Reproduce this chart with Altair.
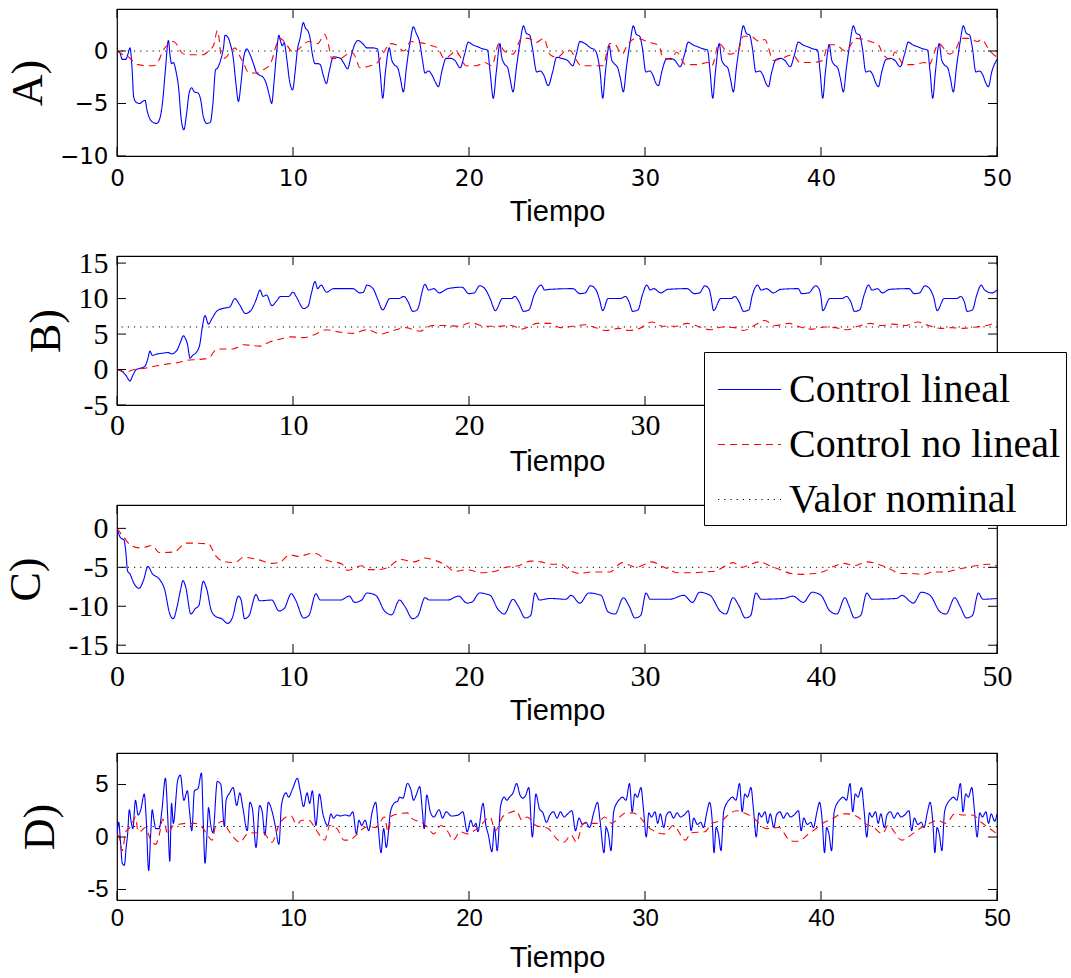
import altair as alt
import pandas as pd

X_TICKS = [0, 10, 20, 30, 40, 50]
SERIES = ["Control lineal", "Control no lineal", "Valor nominal"]
COLORS = ["#0000ff", "#ff0000", "#000000"]
DASHES = [[1, 0], [7, 5], [1.2, 5]]

# ---------------- Panel A ----------------
A_LINEAL = [(0,0),(0.15,-0.1),(0.3,-0.8),(0.5,-0.8),(0.62,-0.3),(0.74,0.3),(0.85,-1.5),(0.95,-4.4),(1.1,-4.9),(1.3,-5.0),(1.45,-4.8),(1.6,-4.7),(1.7,-5.6),(1.85,-6.4),(2.05,-6.8),(2.25,-6.9),(2.4,-6.6),(2.6,-4.7),(2.75,-1.8),(2.92,1.0),(3.02,-0.5),(3.1,-1.2),(3.2,-1.1),(3.36,-2.0),(3.5,-3.5),(3.65,-6.5),(3.8,-7.5),(3.95,-6.0),(4.1,-4.0),(4.24,-3.5),(4.4,-3.9),(4.6,-4.0),(4.75,-4.6),(4.9,-6.2),(5.1,-6.9),(5.3,-6.8),(5.45,-5.0),(5.6,-1.8),(5.72,-1.6),(5.9,-0.8),(6.05,0.3),(6.14,1.5),(6.3,1.3),(6.45,0.6),(6.6,-0.6),(6.75,-3.0),(6.9,-4.8),(7.05,-3.0),(7.2,-0.6),(7.37,0.2),(7.55,-0.3),(7.75,-1.2),(7.94,-2.1),(8.1,-2.3),(8.3,-2.5),(8.5,-3.2),(8.65,-4.2),(8.79,-5.0),(8.92,-3.0),(9.05,-0.5),(9.2,1.5),(9.3,0.9),(9.4,0.5),(9.5,0.8),(9.65,-0.8),(9.8,-2.8),(9.98,-3.7),(10.12,-2.0),(10.25,0.1),(10.4,1.2),(10.59,2.7),(10.7,2.2),(10.85,1.9),(10.95,1.4),(11.1,-0.3),(11.25,-1.2),(11.4,-1.2),(11.55,-1.3),(11.7,-2.2),(11.9,-3.1),(12.05,-2.0),(12.3,-0.55),(12.5,-0.6),(12.7,-0.7),(12.9,-1.2),(13.1,-1.7),(13.3,-0.5),(13.5,0.6),(13.7,1.0),(13.96,0.7),(14.2,0.3),(14.5,0.3),(14.8,0.2),(14.95,-2.0),(15.1,-4.5),(15.25,-2.0),(15.47,0.3),(15.6,-0.8),(15.75,-1.3),(15.95,-1.6),(16.1,-2.6),(16.27,-3.9),(16.45,-1.5),(16.65,0.8),(16.84,2.3),(17.0,1.7),(17.2,0.8),(17.35,-0.8),(17.5,-2.1),(17.7,-1.9),(17.9,-2.3),(18.1,-3.0),(18.26,-3.4),(18.45,-2.0),(18.7,-0.7),(18.95,-0.7),(19.2,-0.9),(19.5,-1.6),(19.75,-0.3),(19.96,0.85),(20.2,0.6),(20.5,0.4),(20.8,0.2),(21.05,0.1),(21.2,-2.0),(21.38,-4.5),(21.55,-2.0),(21.76,0.7),(21.85,-0.5),(22.0,-1.2),(22.2,-1.6),(22.35,-2.8),(22.5,-3.9),(22.7,-1.5),(22.9,0.8),(23.1,2.4),(23.25,1.7),(23.45,1.5),(23.6,0.3),(23.85,-2.0),(24.05,-1.9),(24.25,-2.3),(24.5,-3.3),(24.75,-2.0),(24.98,-0.6),(25.25,-0.7),(25.6,-0.9),(25.9,-1.4),(26.1,-0.3),(26.3,0.9),(26.6,0.7),(26.9,0.3),(27.15,0.1),(27.45,-2.0),(27.6,-4.5),(27.75,-2.0),(27.97,0.5),(28.1,-0.8),(28.25,-1.2),(28.45,-1.6),(28.6,-2.6),(28.77,-3.9),(28.95,-1.5),(29.15,0.8),(29.34,2.4),(29.5,1.6),(29.7,1.4),(29.85,0.3),(30.05,-2.0),(30.25,-1.9),(30.45,-2.3),(30.6,-3.0),(30.76,-3.3),(30.95,-2.0),(31.2,-0.8),(31.45,-0.7),(31.7,-0.9),(32.0,-1.5),(32.25,-0.3),(32.46,0.85),(32.7,0.6),(33.0,0.4),(33.3,0.2),(33.55,0.1),(33.7,-2.0),(33.85,-4.5),(34.0,-2.0),(34.22,0.7),(34.35,-0.8),(34.5,-1.3),(34.7,-1.6),(34.85,-2.6),(35.02,-3.9),(35.2,-1.5),(35.4,0.8),(35.59,2.4),(35.75,1.7),(35.95,1.5),(36.1,0.3),(36.3,-2.0),(36.5,-1.9),(36.7,-2.3),(36.85,-3.0),(37.01,-3.4),(37.2,-2.0),(37.45,-0.8),(37.7,-0.7),(37.95,-0.9),(38.25,-1.5),(38.5,-0.3),(38.71,0.85),(38.95,0.6),(39.25,0.4),(39.55,0.2),(39.8,0.1),(39.95,-2.0),(40.1,-4.5),(40.25,-2.0),(40.47,0.6),(40.6,-0.8),(40.75,-1.3),(40.95,-1.6),(41.1,-2.6),(41.27,-3.9),(41.45,-1.5),(41.65,0.8),(41.84,2.4),(42.0,1.7),(42.2,1.5),(42.35,0.3),(42.55,-2.0),(42.75,-1.9),(42.95,-2.3),(43.1,-3.0),(43.26,-3.4),(43.45,-2.0),(43.7,-0.8),(43.95,-0.7),(44.2,-0.9),(44.5,-1.5),(44.75,-0.3),(44.96,0.85),(45.2,0.6),(45.5,0.4),(45.8,0.2),(46.05,0.1),(46.2,-2.0),(46.35,-4.5),(46.5,-2.0),(46.72,0.7),(46.85,-0.8),(47.0,-1.3),(47.2,-1.6),(47.35,-2.6),(47.52,-3.9),(47.7,-1.5),(47.9,0.8),(48.09,2.4),(48.25,1.7),(48.45,1.5),(48.6,0.3),(48.8,-2.0),(49.0,-1.9),(49.2,-2.3),(49.35,-3.0),(49.51,-3.4),(49.7,-2.0),(50.0,-0.8)]
A_NOLINEAL = [(0,0),(0.3,-0.3),(0.6,-0.5),(0.93,-1.0),(1.2,-1.3),(1.7,-1.4),(2.1,-1.4),(2.4,-0.8),(2.6,0.0),(2.9,0.6),(3.2,0.9),(3.45,0.5),(3.7,-0.2),(4.0,-0.35),(4.6,-0.35),(4.9,-0.35),(5.2,0.0),(5.5,0.6),(5.7,1.95),(5.8,1.2),(5.9,-0.3),(6.1,-0.7),(6.4,-0.2),(6.7,0.3),(6.95,-0.4),(7.2,-1.2),(7.5,-2.1),(8.0,-2.1),(8.3,-1.8),(8.7,-1.3),(8.85,-0.6),(9.0,0.3),(9.26,1.2),(9.6,0.7),(9.9,0.0),(10.1,-0.1),(10.4,0.3),(10.9,0.9),(11.4,0.7),(11.8,1.6),(12.0,0.7),(12.2,-0.7),(12.7,-0.7),(13.3,-0.1),(13.5,-0.4),(13.8,-1.6),(14.4,-1.4),(14.8,-1.1),(15.2,0.0),(15.5,0.7),(15.85,0.6),(16.3,0.0),(16.7,0.9),(17.2,0.8),(17.9,0.5),(18.2,0.3),(18.6,-0.7),(19.0,-0.3),(19.2,0.0),(19.6,-0.8),(19.8,-1.4),(20.4,-1.4),(20.9,-1.1),(21.3,-1.4),(21.7,0.7),(22.0,0.0),(22.5,-0.3),(23.0,1.2),(23.4,1.2),(23.8,0.8),(24.25,1.2),(24.6,-0.35),(25.0,-0.6),(25.6,0.1),(25.8,0.0),(26.0,-0.6),(26.4,-1.4),(26.8,-1.4),(27.6,-1.4),(28.0,0.7),(28.3,0.6),(28.7,-0.3),(29.0,0.6),(29.5,1.2),(30.3,0.8),(30.8,0.5),(31.0,-0.6),(31.5,-0.8),(31.8,-0.1),(32.3,-1.3),(32.9,-1.3),(33.6,-1.1),(33.8,-1.4),(34.2,0.7),(34.8,-0.3),(35.3,0.1),(35.6,1.4),(36.0,1.4),(36.5,0.9),(36.8,1.1),(37.3,-0.9),(37.6,-0.8),(38.4,-0.35),(38.8,-1.1),(39.5,-1.1),(40.1,-0.9),(40.4,0.6),(40.8,0.6),(41.4,0.0),(42.0,1.2),(42.8,0.9),(43.3,0.5),(43.5,-0.3),(44.0,-0.8),(44.2,-0.1),(44.7,-1.3),(45.2,-1.3),(45.9,-1.1),(46.1,-1.4),(46.7,0.7),(47.3,-0.3),(47.6,0.0),(48.0,1.2),(48.4,1.2),(48.9,0.9),(49.1,1.1),(49.6,0.0),(50.0,-0.6)]

# ---------------- Panel B ----------------
B_LINEAL = [(0,0),(0.3,-0.3),(0.5,-0.8),(0.74,-1.6),(0.9,-0.8),(1.1,0.0),(1.35,0.2),(1.6,0.5),(1.75,1.5),(1.875,2.6),(2.0,2.0),(2.3,2.2),(2.6,2.3),(2.9,2.4),(3.1,2.2),(3.4,2.7),(3.6,3.8),(3.77,4.75),(3.9,4.3),(4.0,3.6),(4.15,1.6),(4.3,2.0),(4.5,2.4),(4.7,3.5),(4.85,6.0),(5.0,7.6),(5.2,6.4),(5.4,7.2),(5.7,8.3),(6.0,8.6),(6.4,8.8),(6.7,10.0),(6.95,9.2),(7.3,7.9),(7.6,8.3),(7.9,9.8),(8.125,11.2),(8.3,10.3),(8.5,10.5),(8.8,9.0),(9.05,9.6),(9.3,10.3),(9.75,10.3),(10.0,10.9),(10.2,10.2),(10.6,8.6),(10.85,8.9),(11.05,10.8),(11.25,12.4),(11.4,11.4),(11.6,11.9),(11.9,10.9),(12.3,11.4),(13.4,11.4),(13.8,10.8),(14.0,10.9),(14.2,11.9),(14.55,11.4),(14.8,10.0),(15.1,8.4),(15.5,10.0),(16.0,10.0),(16.3,10.3),(16.55,9.5),(16.8,8.2),(17.05,8.4),(17.5,12.0),(17.7,11.2),(18.0,11.4),(18.3,10.8),(18.8,11.4),(19.6,11.6),(20.0,10.7),(20.3,10.8),(20.6,11.8),(20.9,11.4),(21.2,10.0),(21.5,8.3),(21.9,10.0),(22.4,10.0),(22.6,10.3),(22.85,9.5),(23.1,8.2),(23.4,8.4),(23.7,10.5),(24.1,11.9),(24.3,11.2),(24.6,11.3),(25.9,11.4),(26.3,10.7),(26.6,10.8),(26.9,11.8),(27.2,11.3),(27.4,10.0),(27.6,8.3),(27.9,10.0),(28.6,10.0),(28.9,10.3),(29.1,9.5),(29.3,8.2),(29.6,8.4),(29.85,10.5),(30.1,11.9),(30.3,11.2),(30.5,11.4),(30.9,10.8),(31.3,11.3),(32.4,11.4),(32.8,10.7),(33.1,10.8),(33.4,11.8),(33.65,11.3),(33.75,10.2),(33.9,8.3),(34.3,10.0),(34.9,10.0),(35.1,10.3),(35.35,9.5),(35.6,8.2),(35.9,8.4),(36.1,10.5),(36.4,11.9),(36.6,11.2),(36.9,11.4),(37.3,10.8),(37.7,11.3),(38.7,11.4),(38.9,10.7),(39.3,10.8),(39.7,11.8),(39.9,11.3),(40.0,10.2),(40.1,8.3),(40.5,10.0),(41.2,10.0),(41.45,10.3),(41.7,9.5),(41.9,8.2),(42.2,8.4),(42.45,10.5),(42.7,11.9),(42.9,11.2),(43.2,11.4),(43.5,10.8),(43.9,11.3),(45.0,11.4),(45.3,10.7),(45.6,10.8),(45.9,11.8),(46.2,11.3),(46.4,10.2),(46.6,8.3),(47.0,10.0),(47.7,10.0),(47.95,10.3),(48.15,9.5),(48.3,8.2),(48.6,8.4),(48.85,10.5),(49.1,11.9),(49.3,11.2),(49.7,10.8),(50.0,11.2)]
B_NOLINEAL = [(0,0),(0.5,-0.3),(1.0,0.0),(1.6,0.2),(2.2,0.5),(2.9,0.8),(3.5,1.0),(4.0,1.3),(4.55,1.4),(5.0,1.5),(5.3,1.8),(5.5,2.5),(5.7,2.9),(6.6,2.9),(7.2,3.5),(7.6,3.4),(8.1,3.3),(8.7,3.9),(9.3,4.3),(9.9,4.6),(10.6,4.5),(11.2,4.9),(11.9,5.6),(12.6,5.3),(13.4,5.1),(14.2,5.6),(15.0,5.0),(15.7,5.5),(16.4,5.9),(17.2,5.4),(17.9,6.2),(18.7,6.2),(19.4,6.1),(20.1,6.6),(20.9,6.1),(21.7,6.1),(22.4,6.2),(23.0,5.7),(23.9,6.5),(24.6,6.5),(25.2,5.9),(25.9,6.1),(26.6,6.3),(27.2,5.9),(27.8,5.5),(28.5,5.8),(29.1,5.5),(29.7,5.8),(30.4,6.7),(31.0,6.1),(31.8,6.1),(32.4,6.5),(33.0,6.1),(33.7,5.6),(34.4,6.0),(35.1,5.9),(35.6,5.5),(36.2,6.2),(36.8,6.9),(37.4,6.2),(38.2,6.5),(38.8,6.0),(39.5,5.7),(40.2,6.0),(40.8,5.9),(41.5,5.6),(42.1,6.1),(42.8,6.5),(43.4,6.2),(44.1,6.4),(44.8,6.2),(45.5,6.7),(46.1,6.2),(46.8,5.8),(47.4,5.9),(48.1,5.8),(48.8,6.0),(49.4,6.2),(50.0,6.7)]

# ---------------- Panel C ----------------
C_LINEAL = [(0,0),(0.2,-1.2),(0.4,-1.5),(0.5,-3.0),(0.6,-5.45),(0.75,-5.9),(0.95,-7.0),(1.25,-7.7),(1.5,-6.7),(1.76,-4.9),(2.0,-5.8),(2.4,-6.5),(2.7,-7.8),(3.0,-11.0),(3.2,-11.6),(3.4,-10.2),(3.6,-8.0),(3.75,-6.7),(3.9,-7.5),(4.2,-11.0),(4.45,-10.3),(4.65,-9.9),(4.9,-6.8),(5.1,-7.8),(5.35,-10.5),(5.6,-11.3),(5.95,-11.6),(6.3,-12.2),(6.55,-11.5),(6.9,-8.7),(7.05,-9.2),(7.25,-11.6),(7.5,-11.2),(7.9,-8.5),(8.1,-9.3),(8.8,-9.2),(9.2,-10.6),(9.5,-10.3),(9.9,-8.4),(10.15,-9.2),(10.6,-11.5),(10.9,-11.2),(11.3,-8.4),(11.55,-9.2),(12.7,-9.2),(13.2,-8.7),(13.5,-9.5),(13.9,-9.2),(14.2,-8.3),(14.7,-8.6),(15.2,-10.6),(15.6,-11.1),(16.05,-9.2),(16.35,-10.0),(16.8,-11.6),(17.1,-11.2),(17.5,-8.9),(17.75,-9.2),(18.8,-9.2),(19.4,-8.7),(19.9,-9.6),(20.2,-9.4),(20.6,-8.3),(21.2,-8.6),(21.65,-10.4),(22.0,-11.0),(22.5,-9.1),(22.8,-10.0),(23.2,-11.5),(23.5,-11.2),(23.75,-8.3),(24.0,-9.2),(24.6,-9.0),(25.5,-9.1),(25.8,-8.6),(26.3,-9.6),(26.8,-8.3),(27.5,-8.6),(27.9,-10.7),(28.3,-11.0),(28.77,-8.9),(29.1,-10.0),(29.43,-11.5),(29.75,-11.2),(30.06,-8.3),(30.3,-9.1),(31.4,-9.1),(32.2,-8.6),(32.7,-9.5),(33.1,-8.2),(33.7,-8.6),(34.3,-10.7),(34.6,-11.0),(35.0,-8.9),(35.35,-10.0),(35.7,-11.5),(36.0,-11.2),(36.3,-8.3),(36.6,-9.1),(37.86,-9.0),(38.4,-8.7),(39.0,-9.5),(39.5,-8.2),(40.0,-8.6),(40.5,-10.6),(40.9,-11.0),(41.36,-8.9),(41.6,-10.0),(41.9,-11.5),(42.25,-11.2),(42.6,-8.3),(42.9,-9.1),(44.3,-9.0),(44.6,-8.6),(45.25,-9.6),(45.7,-8.2),(46.2,-8.6),(46.76,-10.7),(47.1,-11.0),(47.6,-8.9),(47.9,-10.0),(48.27,-11.5),(48.6,-11.2),(48.94,-8.3),(49.2,-9.1),(50.0,-9.0)]
C_NOLINEAL = [(0,0),(0.4,-1.2),(0.8,-2.2),(1.25,-2.5),(1.6,-2.4),(2.0,-2.2),(2.4,-3.1),(2.75,-3.1),(3.3,-3.0),(3.6,-2.4),(3.9,-1.9),(4.4,-1.9),(5.2,-2.0),(5.6,-3.5),(6.0,-4.2),(6.7,-4.4),(7.2,-3.7),(8.0,-4.0),(8.8,-4.5),(9.3,-4.3),(9.8,-3.4),(10.3,-3.6),(11.1,-3.2),(11.4,-3.3),(11.8,-4.0),(12.8,-4.6),(13.1,-5.4),(13.9,-4.8),(14.3,-5.3),(14.8,-5.3),(15.4,-5.0),(16.1,-4.0),(16.9,-4.3),(17.5,-3.8),(17.9,-4.0),(18.6,-4.6),(19.2,-5.5),(19.9,-5.3),(20.7,-5.7),(21.5,-5.5),(22.1,-5.0),(22.8,-4.8),(23.5,-4.2),(24.1,-4.3),(24.6,-4.6),(25.2,-4.6),(25.8,-5.5),(26.3,-5.8),(26.9,-5.6),(27.5,-5.6),(28.0,-5.6),(28.7,-4.4),(29.1,-4.7),(29.5,-5.0),(30.0,-4.6),(30.4,-4.3),(30.9,-4.8),(31.4,-5.3),(31.8,-5.7),(32.6,-5.7),(33.4,-5.6),(34.0,-5.5),(34.5,-4.9),(35.0,-4.4),(35.5,-5.0),(36.0,-4.6),(36.5,-4.3),(37.1,-4.8),(37.7,-5.3),(38.3,-5.8),(39.0,-5.9),(39.6,-5.8),(40.2,-5.5),(40.7,-4.9),(41.3,-4.5),(41.9,-4.8),(42.6,-4.3),(43.5,-4.8),(44.0,-5.3),(44.5,-5.8),(45.2,-5.8),(45.8,-5.9),(46.4,-5.6),(47.0,-5.6),(47.7,-5.3),(48.3,-5.0),(48.8,-4.8),(49.5,-4.6),(50.0,-4.8)]

# ---------------- Panel D ----------------
D_LINEAL = [(0,0.15),(0.1,1.4),(0.2,-0.5),(0.3,-2.5),(0.42,-2.7),(0.52,-1.0),(0.6,0.2),(0.7,2.6),(0.8,1.5),(0.9,0.8),(1.05,3.5),(1.2,2.1),(1.35,2.6),(1.55,4.1),(1.65,2.0),(1.8,-3.2),(1.92,0.5),(2.0,2.6),(2.1,1.6),(2.2,0.8),(2.4,0.8),(2.55,2.5),(2.75,5.6),(2.88,2.0),(3.0,-2.3),(3.1,3.2),(3.2,1.3),(3.45,5.4),(3.6,5.9),(3.8,3.5),(4.0,4.4),(4.12,2.5),(4.25,0.6),(4.4,4.4),(4.6,4.6),(4.8,6.1),(4.9,1.5),(5.0,-2.5),(5.12,0.5),(5.2,2.8),(5.32,1.2),(5.45,0.4),(5.7,5.3),(5.9,5.0),(6.1,1.0),(6.2,3.5),(6.4,4.2),(6.6,4.7),(6.8,3.0),(6.98,4.2),(7.15,2.8),(7.4,0.6),(7.55,3.3),(7.7,2.6),(7.9,-1.0),(8.1,3.0),(8.25,2.4),(8.4,0.2),(8.6,3.3),(8.8,2.5),(9.0,1.0),(9.2,-0.7),(9.35,3.1),(9.6,4.2),(9.75,3.8),(9.98,4.6),(10.25,5.6),(10.4,4.5),(10.6,2.9),(10.8,4.2),(10.95,3.2),(11.1,4.4),(11.3,1.1),(11.5,4.1),(11.7,2.2),(11.98,1.1),(12.15,2.2),(12.3,1.8),(12.5,2.1),(12.7,2.0),(12.96,2.1),(13.2,2.0),(13.4,2.4),(13.6,0.3),(13.75,1.6),(13.9,1.1),(14.1,1.6),(14.3,0.6),(14.5,2.4),(14.7,3.3),(14.85,0.8),(15.0,-1.5),(15.15,0.8),(15.3,-1.0),(15.55,2.5),(15.8,3.3),(15.95,3.4),(16.05,3.8),(16.25,3.7),(16.5,5.1),(16.7,4.5),(16.85,3.5),(17.0,4.0),(17.2,4.8),(17.35,2.5),(17.45,0.8),(17.6,4.0),(17.8,2.4),(18.0,1.9),(18.3,2.6),(18.5,1.8),(18.7,2.4),(19.0,2.0),(19.4,2.1),(19.65,2.4),(19.9,0.5),(20.1,1.6),(20.25,1.0),(20.4,1.3),(20.5,0.5),(20.8,3.2),(20.95,1.2),(21.1,0.2),(21.3,-1.4),(21.45,0.9),(21.6,-1.3),(21.8,3.0),(22.0,3.8),(22.15,3.5),(22.3,3.8),(22.5,4.2),(22.7,5.1),(22.9,4.0),(23.05,3.7),(23.2,3.9),(23.4,4.7),(23.6,0.0),(23.8,4.1),(24.0,2.7),(24.2,2.3),(24.4,1.4),(24.6,2.1),(24.8,2.4),(25.0,1.8),(25.2,2.4),(25.4,1.9),(25.6,2.2),(25.85,2.5),(26.05,0.6),(26.25,1.8),(26.45,1.2),(26.65,1.4),(26.85,0.9),(27.1,2.4),(27.3,3.3),(27.45,1.5),(27.67,-1.5),(27.79,0.9),(27.92,0.3),(28.07,-1.3),(28.22,2.4),(28.42,3.3),(28.57,3.6),(28.72,3.8),(28.92,3.5),(29.12,5.1),(29.27,2.4),(29.42,4.1),(29.57,3.8),(29.77,4.7),(29.92,2.5),(30.07,0.0),(30.22,2.3),(30.37,1.9),(30.57,2.4),(30.72,1.3),(30.87,2.2),(31.07,0.9),(31.22,2.1),(31.42,2.4),(31.62,1.8),(31.82,2.3),(32.02,1.9),(32.22,2.1),(32.47,2.5),(32.62,0.6),(32.77,1.8),(32.97,1.2),(33.17,1.4),(33.32,0.9),(33.52,2.4),(33.67,3.3),(33.82,1.5),(33.92,-1.5),(34.04,0.9),(34.17,0.3),(34.32,-1.3),(34.47,2.4),(34.67,3.3),(34.82,3.6),(34.97,3.8),(35.17,3.5),(35.37,5.1),(35.52,2.4),(35.67,4.1),(35.82,3.8),(36.02,4.7),(36.17,2.5),(36.32,0.0),(36.47,2.3),(36.62,1.9),(36.82,2.4),(36.97,1.3),(37.12,2.2),(37.32,0.9),(37.47,2.1),(37.67,2.4),(37.87,1.8),(38.07,2.3),(38.27,1.9),(38.47,2.1),(38.72,2.5),(38.87,0.6),(39.02,1.8),(39.22,1.2),(39.42,1.4),(39.57,0.9),(39.77,2.4),(39.92,3.3),(40.07,1.5),(40.2,-1.5),(40.32,0.9),(40.45,0.3),(40.6,-1.3),(40.75,2.4),(40.95,3.3),(41.1,3.6),(41.25,3.8),(41.45,3.5),(41.65,5.1),(41.8,2.4),(41.95,4.1),(42.1,3.8),(42.3,4.7),(42.45,2.5),(42.6,0.0),(42.75,2.3),(42.9,1.9),(43.1,2.4),(43.25,1.3),(43.4,2.2),(43.6,0.9),(43.75,2.1),(43.95,2.4),(44.15,1.8),(44.35,2.3),(44.55,1.9),(44.75,2.1),(45.0,2.5),(45.15,0.6),(45.3,1.8),(45.5,1.2),(45.7,1.4),(45.85,0.9),(46.05,2.4),(46.2,3.3),(46.35,1.5),(46.47,-1.5),(46.59,0.9),(46.72,0.3),(46.87,-1.3),(47.02,2.4),(47.22,3.3),(47.37,3.6),(47.52,3.8),(47.72,3.5),(47.92,5.1),(48.07,2.4),(48.22,4.1),(48.37,3.8),(48.57,4.7),(48.72,2.5),(48.87,0.0),(49.02,2.3),(49.17,1.9),(49.37,2.4),(49.52,1.3),(49.67,2.2),(49.87,1.5),(50.0,2.2)]
D_NOLINEAL = [(0,0.2),(0.1,0.1),(0.3,-1.3),(0.5,0.5),(0.8,1.0),(1.05,1.9),(1.2,0.5),(1.4,0.6),(1.6,0.9),(1.9,-0.2),(2.2,-0.7),(2.4,0.2),(2.6,1.7),(2.9,0.3),(3.2,1.1),(3.5,1.2),(3.9,1.3),(4.4,1.3),(4.8,1.0),(5.1,0.3),(5.4,-0.3),(5.6,1.0),(6.0,1.5),(6.2,1.0),(6.6,0.0),(7.0,-0.5),(7.4,0.3),(7.8,0.4),(8.3,0.4),(8.8,-0.5),(9.2,1.1),(9.6,1.9),(9.9,2.0),(10.2,1.2),(10.5,1.6),(10.9,1.6),(11.2,1.0),(11.5,0.2),(11.8,-0.3),(12.1,1.1),(12.5,0.8),(12.9,-0.3),(13.2,-0.3),(13.6,0.2),(13.9,0.7),(14.3,1.0),(14.7,0.9),(15.2,1.9),(15.4,0.5),(15.6,2.0),(16.0,2.2),(16.5,2.3),(16.8,1.7),(17.3,1.4),(17.6,1.0),(18.0,0.3),(18.4,1.1),(18.8,0.5),(19.1,-0.3),(19.5,0.5),(19.9,0.3),(20.2,0.5),(20.6,1.0),(21.0,1.7),(21.2,1.9),(21.5,0.6),(21.9,1.9),(22.3,2.3),(22.7,2.5),(23.0,1.6),(23.3,1.9),(23.8,1.1),(24.5,0.8),(25.0,-0.2),(25.4,-0.5),(25.8,0.2),(26.1,-0.5),(26.5,1.3),(27.3,1.3),(27.7,1.9),(28.1,1.3),(28.5,1.8),(28.9,2.3),(29.3,2.3),(29.7,1.9),(30.0,1.3),(30.3,0.8),(31.1,0.3),(31.6,1.1),(32.3,-0.3),(32.6,0.4),(33.4,0.5),(33.8,1.3),(34.4,1.6),(34.8,2.2),(35.2,2.5),(35.6,2.3),(36.1,1.9),(36.9,0.8),(37.6,0.9),(38.3,-0.4),(38.7,-0.4),(39.3,0.3),(39.8,0.9),(40.2,1.4),(40.6,1.7),(41.2,2.2),(41.5,2.2),(42.1,1.9),(42.5,1.3),(43.0,0.9),(43.5,0.3),(43.8,1.1),(44.6,-0.3),(45.2,0.3),(45.7,0.9),(46.3,1.4),(46.6,1.6),(47.1,1.3),(47.6,2.2),(48.1,2.1),(48.6,2.1),(49.1,1.4),(49.5,0.9),(50.0,0.3)]

NOMINAL = {"A": 0, "B": 6, "C": -5, "D": 1}
Y_DOMAINS = {"A": [-10, 4], "B": [-5, 16], "C": [-16, 3], "D": [-6, 8]}
Y_TICKS = {"A": [-10, -5, 0], "B": [-5, 0, 5, 10, 15], "C": [-15, -10, -5, 0], "D": [-5, 0, 5]}
Y_TITLES = {"A": "A)", "B": "B)", "C": "C)", "D": "D)"}

W = 880
TICK = 9

color_scale = alt.Scale(domain=SERIES, range=COLORS)
dash_scale = alt.Scale(domain=SERIES, range=DASHES)
LEGEND = alt.Legend(
    title=None, orient="none", legendX=587, legendY=343,
    symbolType="stroke", symbolSize=3969, symbolStrokeWidth=1.2, symbolOffset=8,
    labelFont="Liberation Serif", labelFontSize=40, labelColor="black",
    labelLimit=600, labelOffset=7, padding=5, rowPadding=2,
    strokeColor="black", fillColor="white",
)


def panel(key, lin, nl, height, tick_font, tick_size, hyphen, title_x, xlab_pad, xtitle_y):
    rows = [{"t": t, "v": v, "serie": SERIES[0]} for t, v in lin]
    rows += [{"t": t, "v": v, "serie": SERIES[1]} for t, v in nl]
    df = pd.DataFrame(rows)
    xs = alt.Scale(domain=[0, 50], nice=False, zero=False)
    ys = alt.Scale(domain=Y_DOMAINS[key], nice=False, zero=False)
    lab_expr = "replace(datum.label, '\u2212', '-')" if hyphen else "datum.label"
    xaxis = alt.Axis(values=X_TICKS, title="Tiempo", titleFont="Liberation Sans",
                     titleFontSize=29, titleFontWeight="normal", titleColor="black",
                     titleY=xtitle_y, labelFont=tick_font, labelFontSize=tick_size,
                     labelColor="black", labelPadding=xlab_pad, labelFlush=False,
                     labelOverlap=False, ticks=False, tickSize=0, domain=False, grid=False)
    yaxis = alt.Axis(values=Y_TICKS[key], title=Y_TITLES[key], titleFont="Liberation Serif",
                     titleFontSize=44, titleFontWeight="normal", titleColor="black",
                     titleX=title_x, labelFont=tick_font, labelFontSize=tick_size,
                     labelColor="black", labelPadding=9, labelFlush=False,
                     labelOverlap=False, labelExpr=lab_expr, ticks=False, tickSize=0,
                     domain=False, grid=False)
    X = alt.X("t:Q", scale=xs, axis=xaxis)
    Y = alt.Y("v:Q", scale=ys, axis=yaxis)
    col = alt.Color("serie:N", scale=color_scale, legend=LEGEND)
    dash = alt.StrokeDash("serie:N", scale=dash_scale, legend=LEGEND)

    nom_df = pd.DataFrame({"v": [NOMINAL[key]], "serie": [SERIES[2]]})
    nom = alt.Chart(nom_df).mark_rule(strokeWidth=1).encode(y=Y, color=col, strokeDash=dash)
    lines = alt.Chart(df).mark_line(strokeWidth=1.1, interpolate="monotone", clip=True).encode(
        x=X, y=Y, color=col, strokeDash=dash)

    xt = pd.DataFrame({"t": X_TICKS})
    yt = pd.DataFrame({"v": Y_TICKS[key]})
    tb = alt.Chart(xt).mark_rule(color="black", strokeWidth=1).encode(
        x=X, y=alt.value(height), y2=alt.value(height - TICK))
    tt = alt.Chart(xt).mark_rule(color="black", strokeWidth=1).encode(
        x=X, y=alt.value(0), y2=alt.value(TICK))
    tl = alt.Chart(yt).mark_rule(color="black", strokeWidth=1).encode(
        y=Y, x=alt.value(0), x2=alt.value(TICK))
    tr = alt.Chart(yt).mark_rule(color="black", strokeWidth=1).encode(
        y=Y, x=alt.value(W - TICK), x2=alt.value(W))
    return alt.layer(nom, lines, tb, tt, tl, tr).properties(width=W, height=height)


pA = panel("A", A_LINEAL, A_NOLINEAL, 147, "DejaVu Sans", 23, False, -67, 11, 41)
pB = panel("B", B_LINEAL, B_NOLINEAL, 149, "Liberation Serif", 30, True, -49, 5, 42)
pC = panel("C", C_LINEAL, C_NOLINEAL, 148, "Liberation Serif", 30, True, -69, 8, 43)
pD = panel("D", D_LINEAL, D_NOLINEAL, 147, "Liberation Sans", 24, True, -55, 6, 43)

chart = alt.vconcat(pA, pB, pC, pD, spacing=100, bounds="flush").configure_view(
    stroke="black", strokeWidth=1.2
).properties(padding={"left": 3, "top": 7, "right": 0, "bottom": 3}, background="white")

chart.save("out.html", embed_options={"renderer": "svg", "actions": False})
